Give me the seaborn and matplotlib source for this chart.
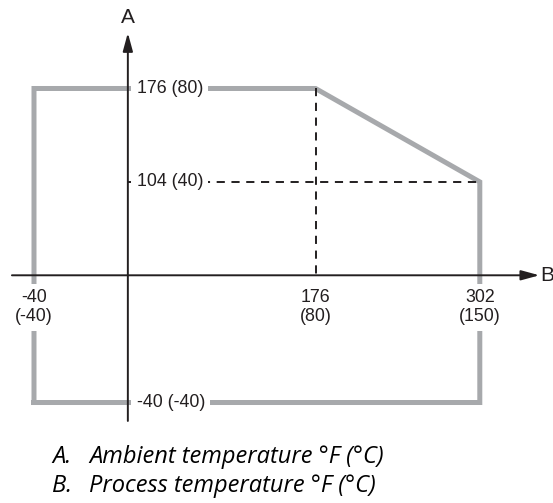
import numpy as np
import pandas as pd
import matplotlib
matplotlib.use("Agg")
import matplotlib.pyplot as plt
import seaborn as sns

# Envelope corners (process temperature on x, ambient temperature on y), in °C
process_c = [-40, -40, 80, 150, 150, -40]
ambient_c = [-40, 80, 80, 40, -40, -40]

# Tick labels on the process axis
process_ticks_c = [-40, 80, 150]
process_ticks_f = [-40, 176, 302]

# Tick labels on the ambient axis
ambient_ticks_c = [80, 40, -40]
ambient_ticks_f = [176, 104, -40]

# Derating corner (dashed guides)
knee_process_c = 80
knee_ambient_c = 80
end_process_c = 150
end_ambient_c = 40

captions = [("A.", "Ambient temperature °F (°C)"),
            ("B.", "Process temperature °F (°C)")]

GRAY = "#a7a9ac"
INK = "#231f20"

sns.set_style("white")
plt.rcParams["font.family"] = ["Liberation Sans", "DejaVu Sans"]

fig = plt.figure(figsize=(5.53, 5.03), dpi=100)
ax = fig.add_axes([0, 0, 1, 1])

# the drawing is schematic: the part below zero is stretched
NEG = 1.362


def fwd(v):
    v = np.asarray(v, dtype=float)
    return np.where(v < 0, v * NEG, v)


def inv(v):
    v = np.asarray(v, dtype=float)
    return np.where(v < 0, v / NEG, v)


ax.set_yscale("function", functions=(fwd, inv))

env = pd.DataFrame({"process": process_c, "ambient": ambient_c})
sns.lineplot(data=env, x="process", y="ambient", sort=False, estimator=None,
             color=GRAY, lw=3.6, solid_joinstyle="miter",
             solid_capstyle="projecting", zorder=2, ax=ax)

# dashed guide lines
guides_h = pd.DataFrame({"x": [0, end_process_c], "y": [end_ambient_c, end_ambient_c]})
guides_v = pd.DataFrame({"x": [knee_process_c, knee_process_c], "y": [knee_ambient_c, 0]})
for g in (guides_h, guides_v):
    sns.lineplot(data=g, x="x", y="y", sort=False, estimator=None, color=INK,
                 lw=1.4, zorder=2, ax=ax)
for line in ax.lines[1:]:
    line.set_linestyle((0, (4.2, 3.4)))

# axes with arrows
arrow = dict(arrowstyle="-|>,head_length=1.1,head_width=0.3", color=INK,
             lw=1.4, shrinkA=0, shrinkB=0, mutation_scale=10)
ax.annotate("", xy=(175.4, 0), xytext=(-49.4, 0), arrowprops=arrow, zorder=4)
ax.annotate("", xy=(0, 103.8), xytext=(0, -45.8), arrowprops=arrow, zorder=4)
ax.text(175.9, 0, "B", fontsize=15, color=INK, ha="left", va="center")
ax.text(0, 110.4, "A", fontsize=15, color=INK, ha="center", va="center")

box = dict(boxstyle="square,pad=0.3", fc="white", ec="none")
for c, f in zip(process_ticks_c, process_ticks_f):
    ax.annotate(f"{f}\n({c})", xy=(c, 0), xytext=(0, -23), textcoords="offset points",
                ha="center", va="center", fontsize=12.75, color=INK,
                linespacing=1.15, bbox=box, zorder=3)
for c, f in zip(ambient_ticks_c, ambient_ticks_f):
    ax.annotate(f"{f} ({c})", xy=(0, c), xytext=(6.3, 0), textcoords="offset points",
                ha="left", va="center", fontsize=12.75, color=INK,
                bbox=box, zorder=3)

ax.set_xlim(-54.49, 181.2)
ax.set_ylim(-71.6, 117.9)
ax.axis("off")

for i, (tag, desc) in enumerate(captions):
    y = 1 - (463.3 + 29 * i) / 503
    fig.text(52 / 553, y, tag, fontsize=17, style="italic", family="Open Sans",
             color="black", va="baseline")
    fig.text(89 / 553, y, desc, fontsize=17, style="italic", family="Open Sans",
             color="black", va="baseline")

fig.savefig("out.png", dpi=100)
